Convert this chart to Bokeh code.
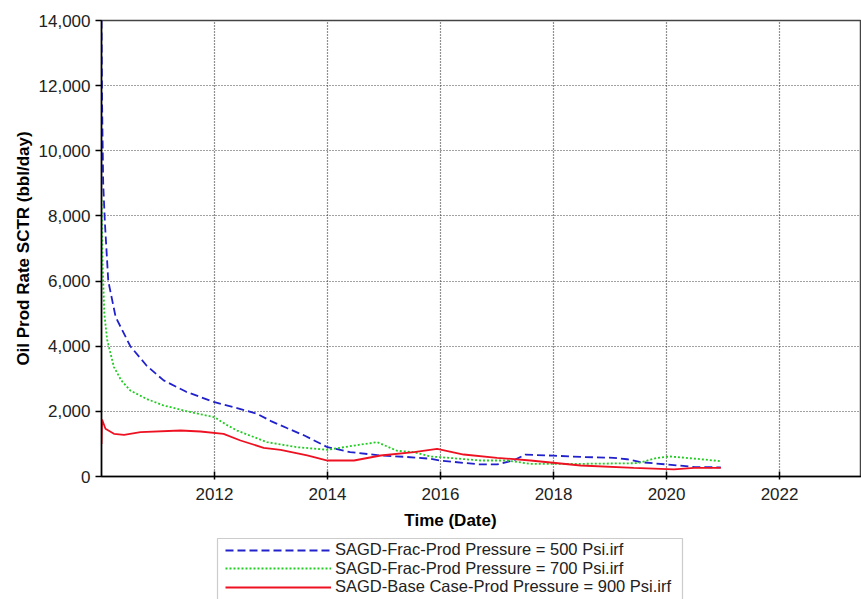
from bokeh.plotting import figure
from bokeh.models import (Range1d, FixedTicker, NumeralTickFormatter, Legend, LegendItem,
                          BoxAnnotation)
from bokeh.layouts import column
from bokeh.core.properties import value
from bokeh.embed import file_html
from bokeh.resources import INLINE

# ---- data (decimal years, bbl/day) ----
t500 = [2010.00, 2010.01, 2010.03, 2010.06, 2010.12, 2010.25, 2010.51, 2010.80, 2011.10, 2011.50,
        2012.00, 2012.40, 2012.76, 2013.00, 2013.29, 2013.60, 2014.00, 2014.40, 2014.94, 2015.40,
        2015.82, 2016.00, 2016.40, 2016.70, 2017.00, 2017.30, 2017.50, 2018.00, 2018.50, 2019.06,
        2019.30, 2019.54, 2020.00, 2020.50, 2020.96]
q500 = [14000, 11500, 9000, 7800, 6000, 4900, 4000, 3400, 2950, 2600,
        2280, 2100, 1920, 1700, 1480, 1250, 900, 750, 645, 600,
        545, 490, 420, 370, 370, 500, 670, 640, 600, 573,
        530, 440, 370, 290, 280]

t700 = [2010.00, 2010.02, 2010.05, 2010.10, 2010.22, 2010.35, 2010.51, 2010.80, 2011.10, 2011.58,
        2012.00, 2012.20, 2012.40, 2012.93, 2013.46, 2014.00, 2014.47, 2014.88, 2015.23, 2015.53,
        2015.82, 2016.00, 2016.71, 2017.18, 2017.59, 2018.48, 2019.48, 2019.84, 2020.07, 2020.60,
        2020.96]
q700 = [8500, 6500, 5000, 4200, 3360, 2950, 2640, 2380, 2180, 1975,
        1820, 1600, 1410, 1054, 900, 820, 950, 1054, 790, 747,
        614, 593, 491, 491, 389, 389, 409, 573, 614, 532,
        470]

t900 = [2010.00, 2010.01, 2010.07, 2010.22, 2010.40, 2010.69, 2011.40, 2011.75, 2012.16, 2012.46,
        2012.87, 2013.17, 2013.64, 2014.00, 2014.47, 2014.94, 2015.53, 2015.94, 2016.41, 2017.00,
        2017.59, 2018.48, 2019.42, 2020.13, 2020.49, 2020.96]
q900 = [1000, 1750, 1464, 1310, 1280, 1361, 1412, 1382, 1310, 1105,
        880, 819, 645, 491, 491, 645, 747, 850, 675, 573,
        491, 338, 266, 220, 266, 266]

x_ticks = [2012, 2014, 2016, 2018, 2020, 2022]
y_ticks = [0, 2000, 4000, 6000, 8000, 10000, 12000, 14000]

labels = ["SAGD-Frac-Prod Pressure = 500 Psi.irf",
          "SAGD-Frac-Prod Pressure = 700 Psi.irf",
          "SAGD-Base Case-Prod Pressure = 900 Psi.irf"]

FONT = "Liberation Sans"
STYLES = [dict(line_color="#2222cc", line_width=1.8, line_dash="8 4"),
          dict(line_color="#22cc22", line_width=1.8, line_dash="2 2"),
          dict(line_color="#ee1122", line_width=1.8)]

# ---------------- main chart ----------------
p = figure(width=861, height=507, output_backend="svg", toolbar_location=None,
           x_range=Range1d(2010.0, 2023.45), y_range=Range1d(0, 14000),
           min_border_left=101, min_border_right=0, min_border_top=20, min_border_bottom=31)

p.background_fill_color = "white"
p.border_fill_color = "white"
p.outline_line_color = "#444444"
p.outline_line_width = 1.5

p.xaxis.ticker = FixedTicker(ticks=x_ticks)
p.yaxis.ticker = FixedTicker(ticks=y_ticks)
p.yaxis.formatter = NumeralTickFormatter(format="0,0")
p.xaxis.formatter = NumeralTickFormatter(format="0")
for ax in (p.xaxis[0], p.yaxis[0]):
    ax.axis_line_color = "black"
    ax.axis_line_width = 1.5
    ax.major_tick_line_color = "black"
    ax.major_tick_line_width = 1.5
    ax.minor_tick_line_color = None
    ax.major_label_text_font = FONT
    ax.major_label_text_font_size = "17px"
    ax.major_label_text_color = "#222222"
p.xaxis.major_tick_in = 5
p.xaxis.major_tick_out = 3
p.yaxis.major_tick_in = 0
p.yaxis.major_tick_out = 6
p.yaxis.major_label_standoff = 5
p.xaxis.major_label_standoff = 8

p.yaxis.axis_label = "Oil Prod Rate SCTR (bbl/day)"
p.yaxis.axis_label_text_font = FONT
p.yaxis.axis_label_text_font_size = "17px"
p.yaxis.axis_label_text_font_style = "bold"
p.yaxis.axis_label_text_color = "black"
p.yaxis.axis_label_standoff = 3

p.xgrid.grid_line_color = "#222222"
p.xgrid.grid_line_dash = "1 2"
p.xgrid.grid_line_width = 1.2
p.ygrid.grid_line_color = "#444444"
p.ygrid.grid_line_dash = "1 2"
p.ygrid.grid_line_width = 1.2

p.line(t500, q500, **STYLES[0])
p.line(t700, q700, **STYLES[1])
p.line(t900, q900, **STYLES[2])

# ---------------- x title + legend strip (pixel-like coordinates) ----------------
q = figure(width=861, height=92, output_backend="svg", toolbar_location=None,
           x_range=Range1d(101, 861), y_range=Range1d(0, 92),
           min_border_left=101, min_border_right=0, min_border_top=0, min_border_bottom=0)
q.axis.visible = False
q.grid.visible = False
q.outline_line_color = None
q.background_fill_color = "white"
q.border_fill_color = "white"

q.text(x=[450], y=[79], text=["Time (Date)"], text_font=value(FONT),
       text_font_size="17px", text_font_style="bold", text_align="center",
       text_baseline="middle", text_color="black")

# legend frame
q.add_layout(BoxAnnotation(left=217, right=682, top=61, bottom=-4,
                           fill_color=None, line_color="#555555", line_width=1.2))

nan = float("nan")
dummies = [q.line([nan, nan], [nan, nan], **s) for s in STYLES]
row_y = [40, 21.5, 3]
for lab, r, yy in zip(labels, dummies, row_y):
    lg = Legend(items=[LegendItem(label=lab, renderers=[r])],
                location=(124, yy), orientation="vertical",
                glyph_width=106, glyph_height=16, label_height=16, spacing=0,
                padding=0, margin=0, label_standoff=4,
                label_text_font=FONT, label_text_font_size="16.5px", label_text_color="#222222",
                border_line_color=None, background_fill_alpha=0.0)
    q.add_layout(lg, "center")

open("out.html", "w").write(file_html(column(p, q, spacing=0), INLINE))
